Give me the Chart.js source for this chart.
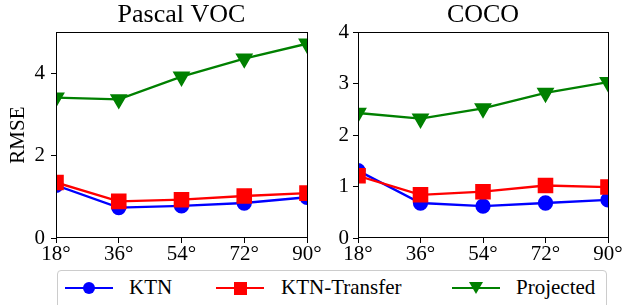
<!DOCTYPE html>
<html>
<head>
<meta charset="utf-8">
<script src="https://cdn.jsdelivr.net/npm/chart.js@4"></script>
<style>
  body { margin: 0; width: 624px; height: 305px; background: #fff; position: relative; overflow: hidden; font-family: "Liberation Serif", serif; }
  #leftWrap { position: absolute; left: 0; top: 0; width: 330px; height: 262px; }
  #rightWrap { position: absolute; left: 312px; top: 0; width: 312px; height: 262px; }
  .legend { position: absolute; left: 57px; top: 270px; width: 550px; height: 50px; border: 1px solid #ccc; border-radius: 4px; box-sizing: border-box; }
  .item { position: absolute; top: 0; height: 36px; }
  .line { position: absolute; top: 16px; width: 48px; height: 2px; }
  .mark { position: absolute; }
  .label { position: absolute; top: 4px; font-size: 21px; color: #000; white-space: nowrap; font-family: "Liberation Serif", serif; }
</style>
</head>
<body>
<div id="leftWrap"><canvas id="vocChart"></canvas></div>
<div id="rightWrap"><canvas id="cocoChart"></canvas></div>
<div class="legend">
  <div class="item" style="left:7px">
    <div class="line" style="background:#0000ff"></div>
    <div class="mark" style="left:18px;top:11px;width:12px;height:12px;border-radius:50%;background:#0000ff"></div>
    <div class="label" style="left:64px">KTN</div>
  </div>
  <div class="item" style="left:158px">
    <div class="line" style="background:#ff0000"></div>
    <div class="mark" style="left:18px;top:11px;width:13px;height:13px;background:#ff0000"></div>
    <div class="label" style="left:65px">KTN-Transfer</div>
  </div>
  <div class="item" style="left:394px">
    <div class="line" style="background:#008000"></div>
    <div class="mark" style="left:17px;top:11px;width:0;height:0;border-left:7px solid transparent;border-right:7px solid transparent;border-top:12px solid #008000"></div>
    <div class="label" style="left:64px">Projected</div>
  </div>
</div>
<script>
const xLabels = ['18°', '36°', '54°', '72°', '90°'];

const vocKtn = [1.28, 0.74, 0.78, 0.85, 0.99];
const vocTransfer = [1.35, 0.89, 0.93, 1.02, 1.09];
const vocProjected = [3.41, 3.37, 3.92, 4.36, 4.72];

const cocoKtn = [1.31, 0.68, 0.62, 0.68, 0.74];
const cocoTransfer = [1.21, 0.84, 0.90, 1.02, 0.99];
const cocoProjected = [2.43, 2.32, 2.52, 2.82, 3.03];

const fontFamily = '"Liberation Serif", "Times New Roman", serif';

// box around the plot area, like matplotlib spines
const framePlugin = {
  id: 'frame',
  afterDraw(chart) {
    const { ctx, chartArea: a } = chart;
    ctx.save();
    ctx.strokeStyle = '#000';
    ctx.lineWidth = 1;
    ctx.strokeRect(Math.round(a.left) + 0.5, Math.round(a.top) + 0.5,
      Math.round(a.right - a.left), Math.round(a.bottom - a.top) - 1);
    ctx.restore();
  }
};

function buildDatasets(ktn, transfer, projected) {
  return [
    {
      label: 'KTN', data: ktn, borderColor: '#0000ff', backgroundColor: '#0000ff',
      pointStyle: 'circle', pointRadius: 6.5, borderWidth: 2.3, order: 3, clip: 0
    },
    {
      label: 'KTN-Transfer', data: transfer, borderColor: '#ff0000', backgroundColor: '#ff0000',
      pointStyle: 'rect', pointRadius: 9.4, borderWidth: 2.3, order: 2, clip: 0
    },
    {
      label: 'Projected', data: projected, borderColor: '#008000', backgroundColor: '#008000',
      pointStyle: 'triangle', pointRotation: 180, pointRadius: 8, borderWidth: 2.3, order: 1, clip: 0
    }
  ];
}

function buildConfig(title, datasets, yMax, yStep, yWidth, tickPad, showYTitle, padRight) {
  return {
    type: 'line',
    data: { labels: xLabels, datasets },
    options: {
      responsive: false,
      animation: false,
      layout: { padding: { left: 0, right: padRight, top: 0, bottom: 0 } },
      plugins: {
        legend: { display: false },
        tooltip: { enabled: false },
        title: {
          display: true, text: title, color: '#000', fullSize: false,
          font: { family: fontFamily, size: 26, weight: 'normal', lineHeight: 1.2 },
          padding: { top: 0, bottom: 1 }
        }
      },
      elements: { point: { borderWidth: 0 }, line: { tension: 0 } },
      scales: {
        x: {
          type: 'category', offset: false,
          grid: { display: true, drawOnChartArea: false, drawTicks: true, tickLength: 5, color: '#000' },
          border: { display: false },
          ticks: { color: '#000', font: { family: fontFamily, size: 21 }, padding: -1, maxRotation: 0, autoSkip: false },
          afterFit(s) { s.height = 24; s.paddingLeft = 0; s.paddingRight = 0; }
        },
        y: {
          min: 0, max: yMax,
          grid: { display: true, drawOnChartArea: false, drawTicks: true, tickLength: 5, color: '#000' },
          border: { display: false },
          ticks: { color: '#000', stepSize: yStep, font: { family: fontFamily, size: 21 }, padding: tickPad },
          title: {
            display: showYTitle, text: 'RMSE', color: '#000',
            font: { family: fontFamily, size: 21 }, padding: { top: 6, bottom: 0 }
          },
          afterBuildTicks(s) { s.ticks = s.ticks.filter(t => t.value % yStep === 0); },
          afterFit(s) { s.width = yWidth; s.paddingTop = 0; s.paddingBottom = 0; }
        }
      }
    },
    plugins: [framePlugin]
  };
}

const vocCanvas = document.getElementById('vocChart');
vocCanvas.width = 330; vocCanvas.height = 262;
new Chart(vocCanvas, buildConfig('Pascal VOC', buildDatasets(vocKtn, vocTransfer, vocProjected), 5, 2, 56, 6, true, 23));

const cocoCanvas = document.getElementById('cocoChart');
cocoCanvas.width = 312; cocoCanvas.height = 262;
new Chart(cocoCanvas, buildConfig('COCO', buildDatasets(cocoKtn, cocoTransfer, cocoProjected), 4, 1, 46, 4, false, 16));
</script>
</body>
</html>
